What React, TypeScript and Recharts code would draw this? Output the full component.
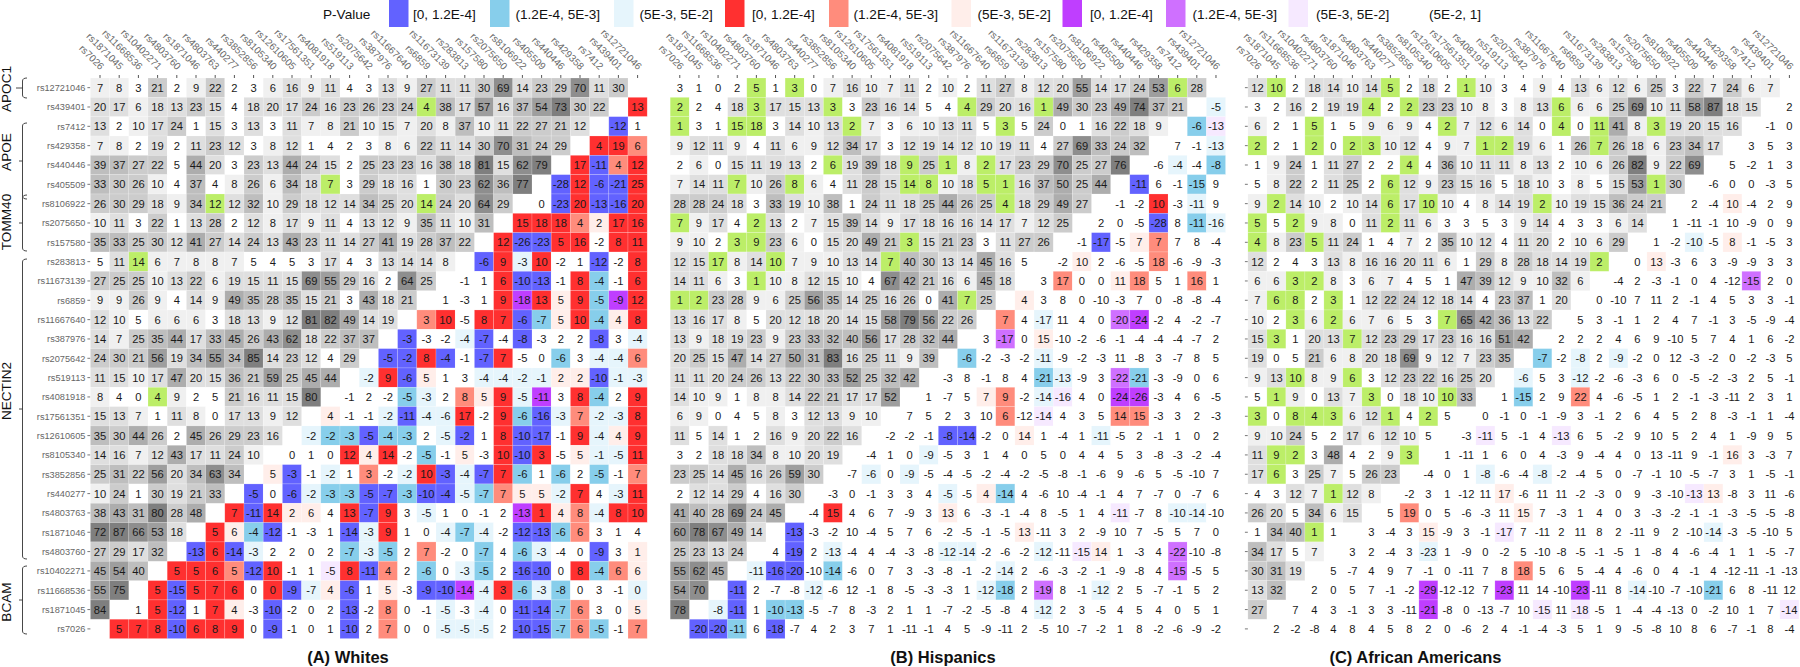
import React from "react";
import { ScatterChart, Scatter, XAxis, YAxis } from "recharts";

const columnLabels = ["rs7026","rs1871045","rs11668536","rs10402271","rs4803760","rs1871046","rs4803763","rs440277","rs3852856","rs8105340","rs12610605","rs17561351","rs4081918","rs519113","rs2075642","rs387976","rs11667640","rs6859","rs11673139","rs283813","rs157580","rs2075650","rs8106922","rs405509","rs440446","rs429358","rs7412","rs439401","rs12721046"];
const rowLabels = [...columnLabels].reverse();

// token = value + p-value class: a/b/c blue, r/s/t red, p/q/u purple, g green, "_" = empty
const whites = [
"7 8 3 21 2 9 22 2 3 6 16 9 11 4 3 13 9 27 11 11 30 69 14 23 29 70 11 30 _",
"20 17 6 18 13 23 15 4 18 20 17 24 16 23 26 23 24 4g 38 17 57 16 37 54 73 30 22 _ 13r",
"13 2 10 17 24 1 15 3 13 3 11 7 8 21 10 15 7 20 8 37 10 11 22 27 21 12 _ -12a 1",
"7 8 2 19 2 11 23 12 3 8 12 1 4 2 3 8 6 22 11 14 30 70 31 24 29 _ 4r 19r 6s",
"39 37 27 22 5 44 20 3 23 13 44 24 15 2 25 23 23 16 38 18 81 15 62 79 _ 17r -11a 4s 12r",
"33 30 26 10 4 37 4 8 26 6 34 18 7g 3 29 18 16 1 30 23 62 36 77 _ -28a 12r -6a -21a 25r",
"26 30 29 18 9 34 12g 12 32 10 29 18 12 14 34 25 20 14g 24 20 64 29 _ 0 -23a 20r -13a -16a 20r",
"10 11 3 22 1 13 28 2 12 8 17 9 11 4 13 12 9 35 11 10 31 _ 15r 18r 18r 4s 2t 17r 16r",
"35 33 25 30 12 41 27 14 24 13 43 23 11 14 27 41 19 28 37 22 _ 12r -26a -23a 5r 16r -2 8r 11r",
"5 11 14g 6 7 8 8 7 5 4 5 3 17 4 3 13 14 14 8 _ -6a 9r -3c 10r -2 1 -12a -2 8r",
"27 25 25 10 13 22 6 19 15 11 15 69 55 29 16 2 64 25 _ -1 1 6r -10a -13a -1 8r -4b -1 6r",
"9 9 26 9 4 14 9 49 35 28 35 15 21 3 43 18 21 _ 1 -3 1 9r -18p 13r 5t 9r -5b -9p 12r",
"12 10 5 6 6 6 3 18 13 9 12 81 82 49 14 19 _ 3s 10r -5 8r 7r -6a -7b 5t 10r -4b 4t 8r",
"14 7 25 35 44 17 33 45 26 43 62 18 22 37 37 _ -3a -3 -2 -4c -7a -4 -8a -3 2 2 -8a 3 -4c",
"24 30 21 56 19 34 55 34 85 14 23 12 4 29 _ -5a -2a 8r -4a -1 -7a 7r -5 0 -6b 3 -4c -4c 6s",
"11 15 10 17 47 20 15 36 21 59 25 45 44 _ -2c 9r -6a 5t 1 3 -4c -4c -2c -1c 2t 2t -10a -1c -3c",
"8 4 0 4g 9 2 5 21 16 11 15 80 _ -1 2 -2 -5b -3c 2 8s 5t 9r -5c -11p 3 8r -4b 2 9r",
"15 13 7 1 11 8 0 17 13 9 12 _ 4t -1 -1 -2c -11a -4c -6c 17r -2 9r -6b -16a -3c 7s -2c -3c 8r",
"35 30 44 26 2 45 26 29 23 16 _ -2c -2b -3b -5a -4b -3b 2 -5c -2a 1 8r -10a -17a -1 9r -4c 4t 9r",
"14 16 7 12 43 17 11 24 10 _ 0 1 0 12r 4t 14r -2 -5b -1 5t -3 10r -10a 3r -5 5t -1c -5c 11r",
"25 31 22 56 20 34 63 34 _ 5t -3a -1 -2c 1 3s -2 -2c 10r -3a -4c -7a 7r -6b 1 -6b 2 -5b -1 7s",
"10 24 1 30 19 21 33 _ -5a 0 -6a -2c -3b -3b -5a -7a -3b -10a -4a -5c -7b 7s 5t 5t -2c 7r 4 -3c 11r",
"38 43 31 80 28 48 _ 7r -11a 14r 2t 6t 4 13r -7a 9r 3 -5c 1 0 -1 2 -13p 1r 4t 8s -4c 8r 10r",
"72 87 66 53 18 _ 5r 6t -4b -12a -1 -3 1 -14a -3c 9r 1 0 -4c -7b -4c -2 -12a -13a -6b 6s 3 1 4",
"27 29 17 32 _ -13a 6r -14a -3c 2 2 0 2 -7b -3c -5b 2 7s -2 0 -7b 4 -6b -3c -4 0 -9a 3 1t",
"45 54 40 _ 5r 5r 6r 5s -12a 10r -1 1 -5u 8r -11a 4s 2 -6b 0 -3c -5b 2 -16a -10a 0 8r -4b 6s 6t",
"55 75 _ 5r -15a 5r 7r 6r 0 0r -9a -7c 4t -6a 1 5t -3 -9a -10a -14p -4c 3r -6b -3c -8b 0 3 -1 0c",
"84 _ 1 5r -12a 1 7r 4t -3 -10a -2 0 2 -13a -2 8s 0 -1 -5c -3 -4c 0 -11a -14a -7b 6s 3 0 5t",
"_ 5r 7r 8r -10a 6r 8r 9r 0 -9a -1 0 1 -10a 2 7s 0 0 -5c -5c -5c 2 -10a -15a -7b 6s -5b -1 7s",
];

const hispanics = [
"3 1 0 2 5g 1 3g 0 7 16 10 7 11 2 10 2 11 27 8 12 20 55 14 17 24 53 6g 28 _",
"2g 2 4 18 3g 17 15 13 3g 3 23 16 14 5 4 4g 29 20 16 1g 49 30 23 49 74 37 21 _ -5c",
"1g 3 1 15g 18g 3 14 10 13 2g 7 3 6 10 13 11 5 3g 5 24 0 1 16 22 18 9 _ -6b -13u",
"9 12 11 9 4 11 6 9 12 34 17 3 12 19 14 12 10 19 11 4 27 69 33 24 32 _ 7 -1 -13c",
"2 6 0 15 11 19 13 2 6g 19 39 18 9g 25 1g 8 2g 17 23 29 70 25 27 76 _ -6 -4c -4 -8b",
"7 14 11 7g 10 26 8g 6 4 11 28 15 14g 8g 10 18 5g 1g 16 37 50 25 44 _ -11a 6 -1 -15b 9",
"28 28 24 18 3 33 19 10 38 1 24 11 18 25 44 26 25 4g 18 29 49 27 _ -1 -2 10r -3 -11c 9",
"7g 9 17 4 2g 13 2 7 15 39 14 9 17 18 16 16 14 17 7 12 25 _ 2 0 -5 -28a 8 -11b -16c",
"9 10 2 3g 9g 23 6 0 15 20 49 21 3g 15 21 23 3 11 27 26 _ -1 -17a -5 7t 7s 7 8 -4",
"12 15 17g 8 14 10g 7 9 10 13 14 7g 40 30 13 14 45 16 5 _ -2 10t 2 -6 -5 18s -6 -9 -3",
"14 11 6 3 1g 10 8 12 15 10 4 67 42 21 16 6 45 18 _ 3 17s 0 0 11t 18s 5 1 16s 1",
"1g 2g 23 28 9 6 25 56 35 14 25 16 26 0 41 7g 25 _ 4t 3 8 0 -10 -3 7 0 -8 -8 -4",
"13 16 17 8 5 20 12 18 20 14 15 58 79 56 22 26 _ 7s 4 -17c 11 4 0 -20q -24p -2 4 -2 -7",
"13 9 18 19 23 9 23 33 32 40 56 17 28 32 44 _ 3 -17q 0 15t -10 -2 -6 -1 -4 -4 -4 -7 2",
"20 25 15 47 14 27 50 31 83 16 25 11 9 39 _ -6b -2 -3 -2 -11c -9 -2 -3 11 -8 3 -7 8 5",
"11 11 20 24 26 13 22 30 33 52 25 32 42 _ -3 8 -1 8 4 -21b -13c -9 3 -22q -21b -3 -9 0 6",
"14 10 9 1 8 8 14 22 21 17 17 52 _ 1 -7 5 7t 9s -2 -14c -16u 4 0 -24p -26p -3 4 6 -5",
"6 9 0 4 5 8 3 12 13 9 10 _ 7 5 2 3 10 6s -12 -14u 4 3 5 14s 15s -3 3 2 -3",
"11 5 14 1 2 16 9 20 22 16 _ -2 -2 -1 -8a -14a -2 0 14t 1 -4 1 -11c -5 2 -1 1 0 2",
"3 2 18 18 34 8 10 20 19 _ -4 1 0 -9c -5 3 1 4 0 5 0 4 4 5 3 -8 -3 -2 -4",
"23 25 14 45 16 26 59 30 _ -7 -6c 0 -9c -5 -4 -5 -2 -4 -2 -5 -8 -1 -6 9 -6 5 -5 -10 7",
"2 12 14 29 4 16 30 _ -3 0 -1 3 3 4 -5c -5 4t -14b 4 -6 10 -4 -1 4 7 -7 0 -7 6",
"41 40 28 69 24 45 _ -4 15r 4 6 7 -9 3 13t 6 -3 -1 -4 8 -5 1 4 -11u -7 8 -10c -14c -10",
"60 78 67 49 14 _ -13a -3 -2 10 -4 5 7 6 -2 -5 -1 -5 13t -11 3 2 -9 10 7 -5 5 7 0",
"25 23 13 24 _ 4 -19a 2 -13c -4 4 -4 -3 -8 -12c -14c -2 -6 -2 -12c -11 -15u 14t 1 -3 4 -22q -10 -8",
"55 62 45 _ -11c -16a -20a -10 -14b -6 0 7 3 -3 -8 -1 -2 -14c 2 -6 -3 -2 -1 -9 -8 4 -15q -5 5",
"54 70 _ -11a 2 -7 -8 -12c -6 12 -1 8 -5 -3 -3 1 -12c -18b 2 -19q 8 -1 -12c 2 5 -7 -1 5 2",
"78 _ -8c -11a 1 -10b -13b -5 -7 8 -3 2 1 1 -7 -2 -5 -8 4 -12c 2 3 -5 4 5 4 0 5 1",
"_ -20a -20a -11b 6 -18a -7 4 2 3 7 1 -11 -1 4 5 -9 -11 2 -5 10 -7 -2 1 8 -2 -6 -9 -2",
];

const africanAmericans = [
"12 10g 2 18 14 10 14 5g 2 18 2 1g 10 3 4 9 4 13 6 12 6 25 3 22 7 24 6 7 _",
"3 2 16 2 19 19 4g 2 2g 23 23 10 8 3 8 13 6g 6 6 25 69 10 11 58 87 18 15 _ 2",
"6 2 1 5g 1 5 9 6 9 4 2g 7 12 6 14 0 4g 0 11g 41 8 3g 19 20 15 16 _ -1 0",
"2g 2 1 2g 0 2g 3g 10 12 4 9 7 1g 2g 19 6 1 26 7g 26 18 6 23 34 17 _ 3 5 3",
"1 9 24 1 11 27 2 2 4g 4 36 10 11 11 8 13 2 10 6 26 82 9 22 69 _ 5 -2 1 3",
"5 8 22 2 11 25 2 6g 12 9 23 15 16 5 18 10 3 8 5 15 53 1g 30 _ -6 0 0 -3 5",
"9 2g 14 10 2 10 14 6g 17 10g 10 4 8 14 19 2g 10 19 15 36 24 21 _ 2 -4 10t -4 2 9",
"5g 5 2g 9 8 0 11 2g 11 6 3 3 5 3 9 14 4 3 3 6 14 _ 1 -11 -1 10 -9 0 9",
"4g 8 23 5g 11 24 1 4 7 2 35 10 12 4 11 20 2 10 6 29 _ 1 -2 -10c -5 8t -1 -5 3",
"12 2 4 3 13 8 16 16 20 11 6 1 29 8 28 18 14 19 2g _ 0 13t -3 6 3 -9 -9 3 3",
"6 6 3g 2g 8 3 6 7 4 5 1 47 39 12 9 10 32 6 _ -4 2 -3 -1 0 4 -12 -15q 2 0",
"7 6g 8g 2 3g 1 12 22 24 12 18 14 4 23 37 1 20 _ 0 -10 7 11 2 -1 4 5 3 3 -1",
"10 2 3g 6 2g 6 7 6 5 3 7g 65 42 36 13 22 _ 5 3 -1 1 2 4 7 -1 3 -5 -9 -4",
"15 3g 1 20 13 7g 12 23 29 17 23 16 16 51 42 _ 2 2 2 4 6 9 -10 5 7 4 1 6 -2",
"19 0 5 21 6 8 20 18 69 9 12 7 23 35 _ -7b -2 -8c 2 -9c -2 0 12 -3 -2 0 -2 -3 5",
"9 13 10g 8 9 6g 3 12 23 22 16 25 20 _ -6c 5 3 -12c -2 -6 -3 6 0 -5 -2 -3 2 5 -1",
"5 1g 9 0 13 7 3g 0 18 10 10g 33 _ 1 -15b 2 9 22s 4 -6 -5 1 2 -1 -3 -11 2 3 1",
"3g 0 8g 4g 3g 6 12 1g 4 2g 5 _ 0 -1 0 -1 -9 3 -1 2 6 4 5 2 8 -3 -1 1 -4",
"9 10 24 5 2 17 6 12 10 5 _ -3 -11u 5 -1 4 -13u 6 5 -2 9 10 5 2 4 1 -9 9 5",
"11 9g 2g 3 48 4 2 9 3g _ 1 -11 1 6 0 4 -3 9 -4 4 0 13 -11 9 -1 16t 3 -3 7",
"17 6g 3 25 7 5 26 23 _ -4 0 1 -8c -6 -4 -8c -2 -4 5 0 -7 -1 10 -5 -7 3 1 -5 -1",
"4 3 12 7 1g 12 8 _ -2 3 1 -12 11 17t -6 11 11 -2 -3 0 9 -3 -10 -13u 13t -8 3 11 -6",
"26 20 5 34 6 15 _ 5 19s 0 5 -6 -3 11 15t 7 -3 1 4 0 3 -3 -2 -1 -1 -3 -5 -5 -8",
"1 34 40 1g 1 _ 3 -4 3 15t -9 3 -1 -17u 7 -11 2 11 8 2 -11 9 2 -10 -14c -3 -5 -10 5",
"34 17 5 7 _ 3 2 -4 3 -23c 1 -9 0 -2 5 -10 -8 -5 -1 -5 1 -8 4 -6 -4 1 1 -5 -7",
"30 31 19 _ 5 -7 4 9 7 -1 0 -11 7 8 18s 5 6 5 -4 4 -6 0 4 -1 4 -12 -11 -1 -13",
"13 32 _ 2 0 5 7 -1 -2 -29p -12 -12 7 -23p 11 14 -10 -23p -11 8 -14c -10 -7 -10 -21b 6 8 -11 12",
"27 _ 7 4 3 -1 3 3 -11 -21p -8 0 -13 -7 10 -15u 11 -18u -5 1 -4 -4 -13 0 -2 10 1 7 -14u",
"_ 2 -2 -8 4 8 4 5 8 2 0 -6 2 4 -1 -4 -3 5 1 9 -5 -8 10 8 6 -7 -1 8 -4",
];

const panelTitles = ["(A) Whites", "(B) Hispanics", "(C) African Americans"];
const legendLabels = ["[0, 1.2E-4]", "(1.2E-4, 5E-3]", "(5E-3, 5E-2]"];
const genes = ["APOC1", "APOE", "TOMM40", "NECTIN2", "BCAM"];

const CLASS_FILL: Record<string, string> = {
  a: "#6262ff", b: "#87ceeb", c: "#e6f5fc",
  r: "#ff3030", s: "#ff8c7c", t: "#ffeeea",
  p: "#bf3eff", q: "#cf70ff", u: "#f6e9ff",
  g: "#bcee68",
};
const FONT = '"Liberation Sans", Arial, sans-serif';

function greyFor(v: number) {
  if (v <= 5) return "#ffffff";
  if (v <= 10) return "#f0f0f0";
  if (v <= 20) return "#dfdfdf";
  if (v <= 30) return "#cccccc";
  if (v <= 40) return "#bebebe";
  if (v <= 50) return "#adadad";
  if (v <= 60) return "#9e9e9e";
  if (v <= 70) return "#8e8e8e";
  return "#7f7f7f";
}

function parse(rows: string[]) {
  const out: { col: number; row: number; value: string; fill: string }[] = [];
  rows.forEach((line, row) => {
    line.split(" ").forEach((tok, col) => {
      if (tok === "_") return;
      const m = tok.match(/^(-?\d+)([a-z]?)$/);
      if (!m) return;
      const v = Number(m[1]);
      const fill = m[2] ? CLASS_FILL[m[2]] : row + col < 28 ? greyFor(v) : "#ffffff";
      out.push({ col, row, value: m[1], fill });
    });
  });
  return out;
}

const indexTicks = columnLabels.map((_, i) => i);
const TOP = 78;
const ROW_H = 19.33;
const BOTTOM = TOP + ROW_H * 29;

function Panel({ rows, left, colW, showRowLabels, showRowTicks }: { rows: string[]; left: number; colW: number; showRowLabels: boolean; showRowTicks: boolean }) {
  const data = parse(rows);
  const axisW = 70;
  const axisH = 70;
  const width = colW * 29;
  const cellShape = (p: any) => {
    const { cx, cy, payload } = p;
    return (
      <g>
        <rect x={cx - colW / 2} y={cy - ROW_H / 2} width={colW} height={ROW_H} fill={payload.fill} stroke={payload.fill === "#ffffff" ? "none" : "#ffffff"} strokeOpacity={0.3} strokeWidth={0.6} />
        <text x={cx} y={cy + 4} textAnchor="middle" fontSize={11.2} fontFamily={FONT} fill="#1a1a1a">{payload.value}</text>
      </g>
    );
  };
  const xTick = (p: any) => (
    <g transform={`translate(${p.x},${TOP - 7.5})`}>
      <text transform="rotate(45)" textAnchor="end" fontSize={10} fontFamily={FONT} fill="#6a6a6a">{columnLabels[p.payload.value]}</text>
    </g>
  );
  const yTick = (p: any) =>
    showRowLabels ? (
      <text x={p.x} y={p.y + 3.3} textAnchor="end" fontSize={9.2} fontFamily={FONT} fill="#666666">{rowLabels[p.payload.value]}</text>
    ) : (
      <g />
    );
  return (
    <div style={{ position: "absolute", left: 0, top: 0 }}>
      <ScatterChart
        width={1800}
        height={667}
        margin={{ left: left - axisW, right: 1800 - left - width, top: TOP - axisH, bottom: 667 - BOTTOM }}
      >
        <XAxis type="number" dataKey="col" orientation="top" xAxisId={0} height={axisH} domain={[-0.5, 28.5]} ticks={indexTicks} interval={0} axisLine={false} tickSize={3} tickLine={{ stroke: "#555555" }} tick={xTick} allowDecimals />
        <YAxis type="number" dataKey="row" yAxisId={0} width={axisW} reversed domain={[-0.5, 28.5]} ticks={indexTicks} interval={0} axisLine={false} tickSize={showRowTicks ? 3 : 0} tickLine={showRowTicks ? { stroke: "#777777" } : false} tick={yTick} allowDecimals />
        <Scatter data={data} isAnimationActive={false} shape={cellShape} />
      </ScatterChart>
    </div>
  );
}

const legendItems = [
  { swatch: 389, text: 413, label: legendLabels[0], fill: CLASS_FILL.a },
  { swatch: 490, text: 515.5, label: legendLabels[1], fill: CLASS_FILL.b },
  { swatch: 614, text: 639.5, label: legendLabels[2], fill: CLASS_FILL.c },
  { swatch: 725, text: 752, label: legendLabels[0], fill: CLASS_FILL.r },
  { swatch: 829, text: 853.5, label: legendLabels[1], fill: CLASS_FILL.s },
  { swatch: 951.5, text: 977.5, label: legendLabels[2], fill: CLASS_FILL.t },
  { swatch: 1062.5, text: 1090, label: legendLabels[0], fill: CLASS_FILL.p },
  { swatch: 1166, text: 1192.5, label: legendLabels[1], fill: CLASS_FILL.q },
  { swatch: 1288.5, text: 1316, label: legendLabels[2], fill: CLASS_FILL.u },
];

const brackets = [
  { top: 78, bottom: 98, midTick: 16 },
  { top: 123, bottom: 199, midTick: 19 },
  { top: 195, bottom: 251, midTick: 19 },
  { top: 259, bottom: 559, midTick: 19 },
  { top: 566, bottom: 634, midTick: 19 },
];
const geneCentres = [89, 152, 222, 391, 602];

function Decor() {
  return (
    <svg width={1800} height={667} style={{ position: "absolute", left: 0, top: 0 }}>
      {legendItems.map((l, i) => (
        <g key={i}>
          <rect x={l.swatch} y={0} width={19.5} height={27} fill={l.fill} />
          <text x={l.text} y={18.5} fontSize={13.6} fontFamily={FONT} fill="#111111">{l.label}</text>
        </g>
      ))}
      <text x={323} y={18.5} fontSize={13.6} fontFamily={FONT} fill="#111111">P-Value</text>
      <text x={1429} y={18.5} fontSize={13.6} fontFamily={FONT} fill="#111111">(5E-2, 1]</text>
      {brackets.map((b, i) => {
        const mid = (b.top + b.bottom) / 2;
        return (
          <path key={i} d={`M27 ${b.top} Q22.5 ${b.top} 22.5 ${b.top + 3} L22.5 ${b.bottom - 3} Q22.5 ${b.bottom} 27 ${b.bottom} M22.5 ${mid} L${b.midTick} ${mid}`} fill="none" stroke="#333333" strokeWidth={0.9} />
        );
      })}
      {genes.map((g, i) => (
        <text key={g} transform={`translate(10.5,${geneCentres[i]}) rotate(-90)`} textAnchor="middle" fontSize={13.6} fontFamily={FONT} fill="#111111">{g}</text>
      ))}
      {panelTitles.map((t, i) => (
        <text key={t} x={[348, 943, 1415.5][i]} y={663} textAnchor="middle" fontSize={16.5} fontWeight={700} fontFamily={FONT} fill="#111111">{t}</text>
      ))}
    </svg>
  );
}

export default function App() {
  return (
    <div style={{ position: "absolute", left: 0, top: 0, width: 1800, height: 667, background: "#ffffff", overflow: "hidden" }}>
      <Panel rows={whites} left={90.4} colW={19.2} showRowLabels showRowTicks />
      <Panel rows={hispanics} left={670.2} colW={19.15} showRowLabels={false} showRowTicks={false} />
      <Panel rows={africanAmericans} left={1247.9} colW={19} showRowLabels={false} showRowTicks />
      <Decor />
    </div>
  );
}
